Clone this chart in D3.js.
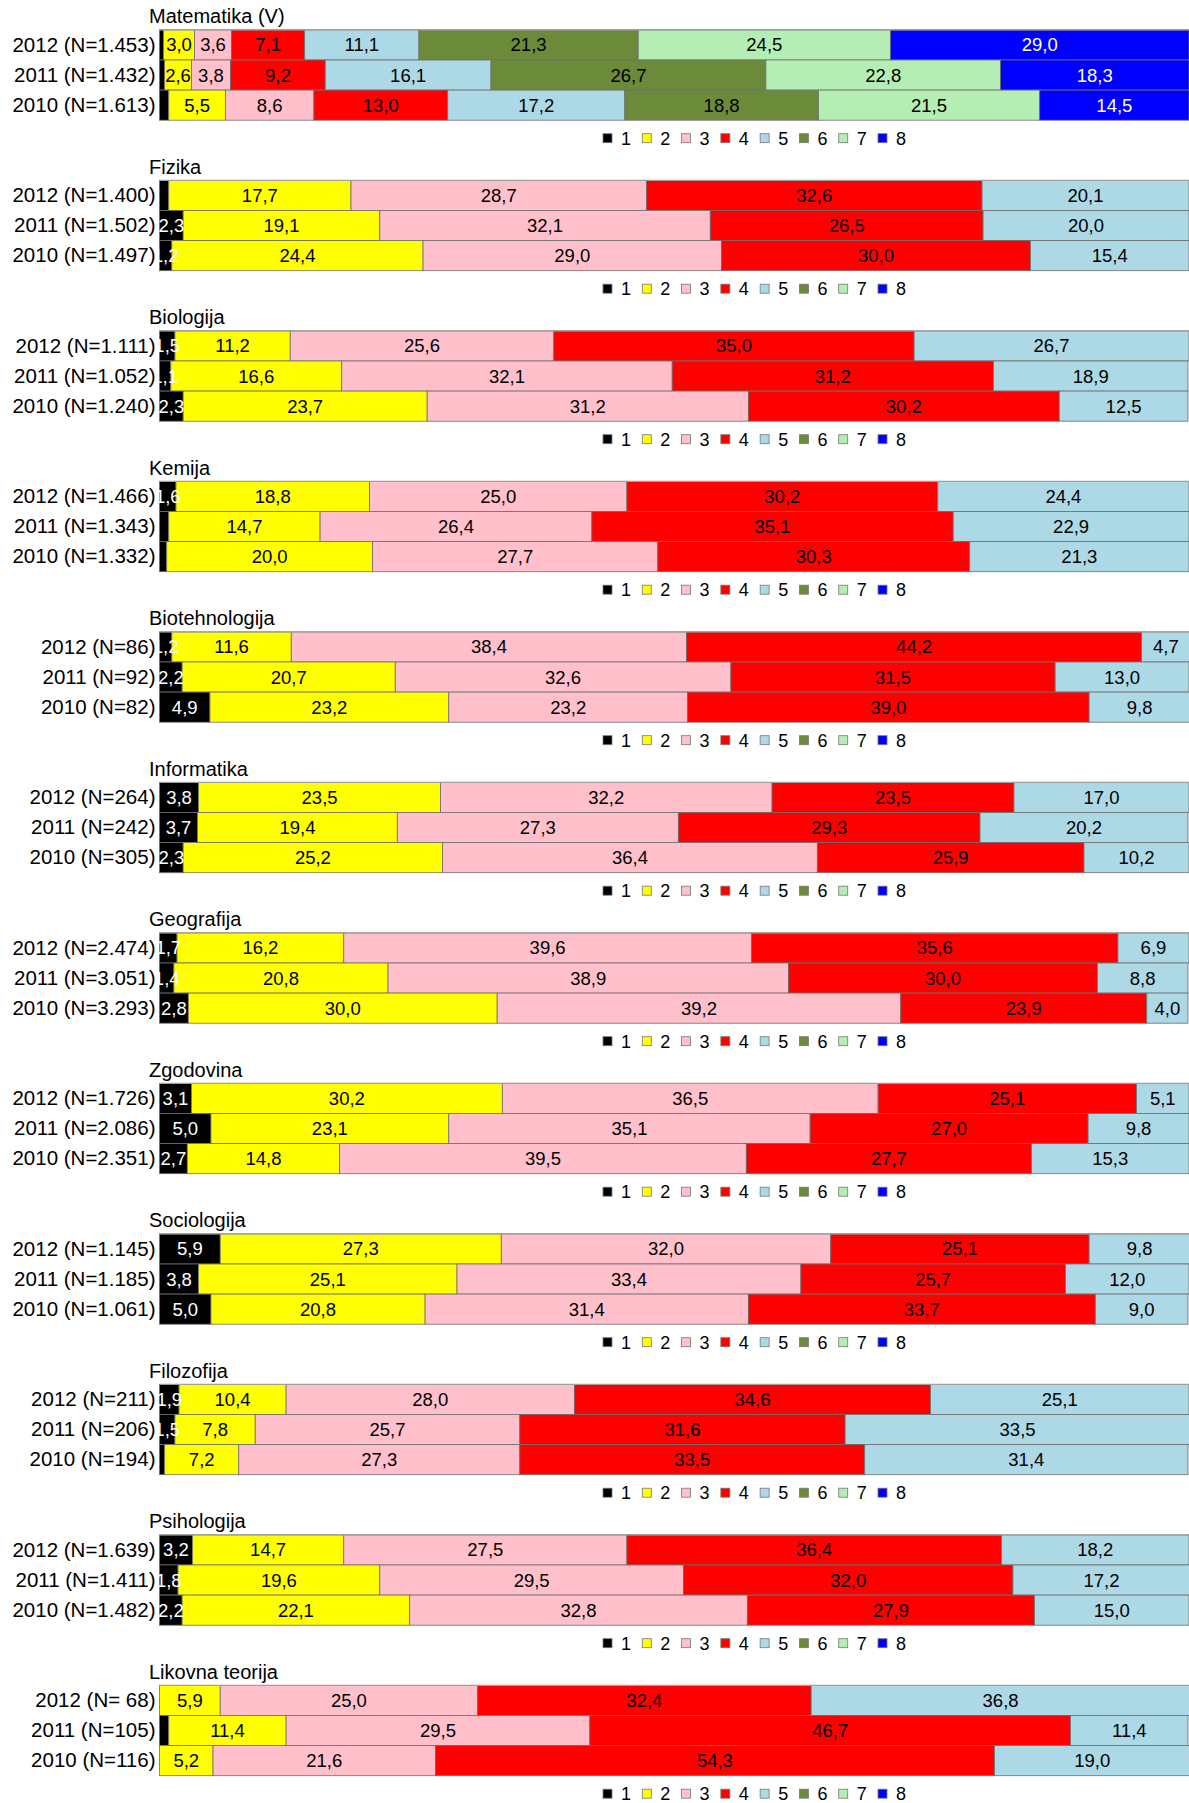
<!DOCTYPE html>
<html>
<head>
<meta charset="utf-8">
<script src="https://cdn.jsdelivr.net/npm/d3@7"></script>
<style>
  html, body { margin: 0; padding: 0; background: #fff; }
  svg { display: block; font-family: "Liberation Sans", Arial, sans-serif; }
</style>
</head>
<body>
<svg id="chart" width="1189" height="1803"></svg>
<script>
// ---------- DATA ----------
const subjects = ["Matematika (V)", "Fizika", "Biologija", "Kemija", "Biotehnologija", "Informatika",
  "Geografija", "Zgodovina", "Sociologija", "Filozofija", "Psihologija", "Likovna teorija"];
const years = ["2012", "2011", "2010"];
const grades = ["1", "2", "3", "4", "5", "6", "7", "8"];
const gradeColors = ["#000000", "#FFFF00", "#FFC0CB", "#FF0000", "#ADD8E6", "#6B8B3B", "#B4EEB4", "#0000FF"];
const gradeTextColors = ["#ffffff", "#000000", "#000000", "#000000", "#000000", "#000000", "#000000", "#ffffff"];

const nMatematika = ["1.453", "1.432", "1.613"];
const nFizika = ["1.400", "1.502", "1.497"];
const nBiologija = ["1.111", "1.052", "1.240"];
const nKemija = ["1.466", "1.343", "1.332"];
const nBiotehnologija = ["86", "92", "82"];
const nInformatika = ["264", "242", "305"];
const nGeografija = ["2.474", "3.051", "3.293"];
const nZgodovina = ["1.726", "2.086", "2.351"];
const nSociologija = ["1.145", "1.185", "1.061"];
const nFilozofija = ["211", "206", "194"];
const nPsihologija = ["1.639", "1.411", "1.482"];
const nLikovna = [" 68", "105", "116"];

// rows: 2012, 2011, 2010 ; columns: grades 1..8 (or 1..5)
const matematika = [
  [0.4, 3.0, 3.6, 7.1, 11.1, 21.3, 24.5, 29.0],
  [0.5, 2.6, 3.8, 9.2, 16.1, 26.7, 22.8, 18.3],
  [0.9, 5.5, 8.6, 13.0, 17.2, 18.8, 21.5, 14.5]];
const fizika = [
  [0.9, 17.7, 28.7, 32.6, 20.1],
  [2.3, 19.1, 32.1, 26.5, 20.0],
  [1.2, 24.4, 29.0, 30.0, 15.4]];
const biologija = [
  [1.5, 11.2, 25.6, 35.0, 26.7],
  [1.1, 16.6, 32.1, 31.2, 18.9],
  [2.3, 23.7, 31.2, 30.2, 12.5]];
const kemija = [
  [1.6, 18.8, 25.0, 30.2, 24.4],
  [0.9, 14.7, 26.4, 35.1, 22.9],
  [0.7, 20.0, 27.7, 30.3, 21.3]];
const biotehnologija = [
  [1.2, 11.6, 38.4, 44.2, 4.7],
  [2.2, 20.7, 32.6, 31.5, 13.0],
  [4.9, 23.2, 23.2, 39.0, 9.8]];
const informatika = [
  [3.8, 23.5, 32.2, 23.5, 17.0],
  [3.7, 19.4, 27.3, 29.3, 20.2],
  [2.3, 25.2, 36.4, 25.9, 10.2]];
const geografija = [
  [1.7, 16.2, 39.6, 35.6, 6.9],
  [1.4, 20.8, 38.9, 30.0, 8.8],
  [2.8, 30.0, 39.2, 23.9, 4.0]];
const zgodovina = [
  [3.1, 30.2, 36.5, 25.1, 5.1],
  [5.0, 23.1, 35.1, 27.0, 9.8],
  [2.7, 14.8, 39.5, 27.7, 15.3]];
const sociologija = [
  [5.9, 27.3, 32.0, 25.1, 9.8],
  [3.8, 25.1, 33.4, 25.7, 12.0],
  [5.0, 20.8, 31.4, 33.7, 9.0]];
const filozofija = [
  [1.9, 10.4, 28.0, 34.6, 25.1],
  [1.5, 7.8, 25.7, 31.6, 33.5],
  [0.5, 7.2, 27.3, 33.5, 31.4]];
const psihologija = [
  [3.2, 14.7, 27.5, 36.4, 18.2],
  [1.8, 19.6, 29.5, 32.0, 17.2],
  [2.2, 22.1, 32.8, 27.9, 15.0]];
const likovna = [
  [0.0, 5.9, 25.0, 32.4, 36.8],
  [0.9, 11.4, 29.5, 46.7, 11.4],
  [0.0, 5.2, 21.6, 54.3, 19.0]];

const allValues = [matematika, fizika, biologija, kemija, biotehnologija, informatika,
  geografija, zgodovina, sociologija, filozofija, psihologija, likovna];
const allN = [nMatematika, nFizika, nBiologija, nKemija, nBiotehnologija, nInformatika,
  nGeografija, nZgodovina, nSociologija, nFilozofija, nPsihologija, nLikovna];

// ---------- LAYOUT ----------
const plotLeft = 159.5, plotRight = 1189;
const panelStep = 150.5;
const barTop = 29.9;
const barBlock = 90.3;
const svg = d3.select("#chart");

const x = d3.scaleLinear().domain([0, 100]).range([plotLeft, plotRight]);
const legendX = d3.scalePoint().domain(grades).range([603, 878]);
const fmt = v => v.toFixed(1).replace(".", ",");

subjects.forEach((subj, i) => {
  const g = svg.append("g").attr("transform", `translate(0,${i * panelStep})`);
  const y = d3.scaleBand().domain(years).range([barTop, barTop + barBlock]).padding(0);

  // title
  g.append("text")
    .attr("x", 149).attr("y", barTop - 6.5)
    .attr("font-size", 20).attr("fill", "#000")
    .text(subj);

  const rows = allValues[i];
  rows.forEach((row, r) => {
    const yr = years[r];
    let cum = 0;
    const segs = row.map((v, k) => { const s = { k, v, x0: cum, x1: cum + v }; cum += v; return s; });
    const rg = g.append("g");
    rg.selectAll("rect").data(segs.filter(s => s.v > 0)).join("rect")
      .attr("x", s => x(s.x0))
      .attr("y", y(yr))
      .attr("width", s => x(s.x1) - x(s.x0))
      .attr("height", y.bandwidth())
      .attr("fill", s => gradeColors[s.k])
      .attr("stroke", "#6e6e6e")
      .attr("stroke-width", 0.8);
    rg.selectAll("text").data(segs.filter(s => s.v >= 1)).join("text")
      .attr("x", s => (x(s.x0) + x(s.x1)) / 2)
      .attr("y", y(yr) + y.bandwidth() / 2 + 6.5)
      .attr("text-anchor", "middle")
      .attr("font-size", 18.5)
      .attr("fill", s => gradeTextColors[s.k])
      .text(s => fmt(s.v));
  });

  // top border of plot
  g.append("line")
    .attr("x1", plotLeft).attr("x2", plotRight)
    .attr("y1", barTop).attr("y2", barTop)
    .attr("stroke", "#a0a0a0").attr("stroke-width", 1.2);

  // y axis labels
  const axis = d3.axisLeft(y).tickSize(0).tickPadding(4)
    .tickFormat((d, j) => `${d} (N=${allN[i][j]})`);
  const ag = g.append("g").attr("transform", `translate(${plotLeft},0)`).call(axis);
  ag.select(".domain").remove();
  ag.selectAll("text").attr("font-size", 20.5).attr("fill", "#000")
    .attr("font-family", "'Liberation Sans', Arial, sans-serif");

  // legend
  const ly = barTop + barBlock + 18;
  const lg = g.append("g");
  grades.forEach((gr, k) => {
    const lx = legendX(gr);
    lg.append("rect")
      .attr("x", lx).attr("y", ly - 4.5)
      .attr("width", 9).attr("height", 9)
      .attr("fill", gradeColors[k])
      .attr("stroke", "#777").attr("stroke-width", 0.8);
    lg.append("text")
      .attr("x", lx + 18).attr("y", ly + 6.5)
      .attr("font-size", 18).attr("fill", "#000")
      .text(gr);
  });
});
</script>
</body>
</html>
